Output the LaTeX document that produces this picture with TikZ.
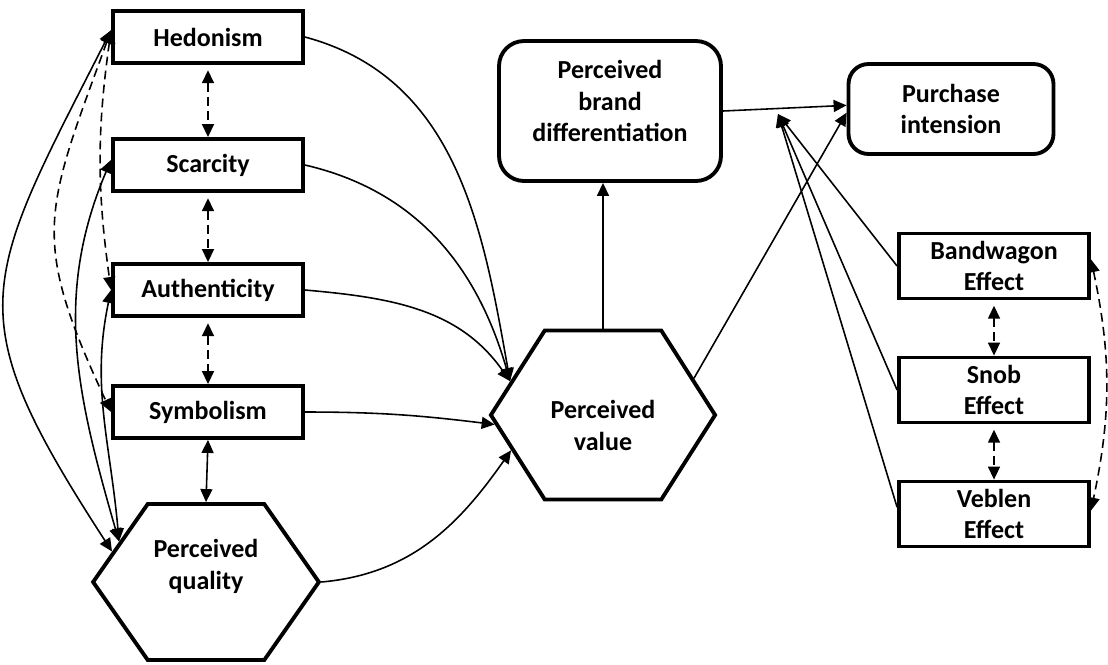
\documentclass[tikz,border=0pt]{standalone}
\usepackage{fontspec}
\setmainfont{Carlito}
\usetikzlibrary{shapes,arrows.meta}
\tikzstyle{bx}=[rectangle,draw=black,line width=2.2pt,minimum width=3.8cm,minimum height=1.04cm,align=center,font=\bfseries\fontsize{14.8}{17.9}\selectfont]
\tikzstyle{eff}=[bx,minimum height=1.3cm]
\tikzstyle{rbx}=[bx,rounded corners=0.5cm]
\tikzstyle{hexa}=[signal,signal to=east and west,draw=black,line width=2.2pt,align=center,font=\bfseries\fontsize{14.8}{17.9}\selectfont]
\tikzstyle{ln}=[line width=0.9pt,>={Triangle[length=0.26cm,width=0.24cm]}]
\tikzstyle{dsh}=[ln,dash pattern=on 5pt off 3pt]

\begin{document}
\begin{tikzpicture}[x=0.02cm,y=-0.02cm]
\useasboundingbox (0,0) rectangle (1108,664);
\node[bx] (hed) at (208,37) {Hedonism};
\node[bx] (scar) at (208,165) {Scarcity};
\node[bx] (auth) at (208,290) {Authenticity};
\node[bx] (sym) at (208,412) {Symbolism};
\node[hexa,minimum width=4.4cm,minimum height=3.12cm,signal pointer angle=110,text depth=20pt] (pq) at (206,582) {Perceived\\quality};
\node[hexa,minimum width=4.34cm,minimum height=3.38cm,signal pointer angle=115,text height=40pt] (pv) at (603,415) {Perceived\\value};
\node[rbx,minimum width=4.44cm,minimum height=2.8cm,text depth=11.5pt] (pbd) at (610,111) {Perceived\\brand\\differentiation};
\node[rbx,minimum width=4.1cm,minimum height=1.8cm,rounded corners=0.4cm] (pi) at (951,109) {Purchase\\intension};
\node[eff] (bw) at (994,266) {Bandwagon\\Effect};
\node[eff] (snob) at (994,390) {Snob\\Effect};
\node[eff] (veb) at (994,514) {Veblen\\Effect};
\coordinate (mod) at (778,114);

\draw[dsh,<->,shorten <=3pt] (hed.south) -- (scar.north);
\draw[dsh,<->,shorten <=3pt] (scar.south) -- (auth.north);
\draw[dsh,<->,shorten <=3pt] (auth.south) -- (sym.north);
\draw[ln,<->] (sym.south) -- (pq.north);
\draw[ln,<->] (hed.176) to[out=243,in=123,looseness=1.4] (pq.162);
\draw[dsh,<->] (hed.176) to[out=250,in=115,looseness=1.3] (sym.west);
\draw[dsh,<->] (hed.176) to[bend right=8] (auth.west);
\draw[ln,<->] (scar.177) to[out=247,in=106] (pq.155);
\draw[ln,<->] (auth.west) to[out=258,in=95] (pq.155);

\draw[ln,->] (hed.east) to[out=-15,in=100] (pv.160);
\draw[ln,->] (scar.east) to[out=-13,in=106] (pv.160);
\draw[ln,->] (auth.east) to[out=-5,in=125] (pv.160);
\draw[ln,->] (sym.east) to[out=0,in=173] (pv.185);
\draw[ln,->] (pq.east) to[out=5,in=235] (pv.201);
\draw[ln,->] (pv.north) -- (pv.north |- pbd.south);
\draw[ln,->] (pv.22) -- (pi.182);
\draw[ln,->] (pbd.east) -- (pi.178);

\draw[ln,->] (bw.west) -- (mod);
\draw[ln,->] (snob.west) -- (mod);
\draw[ln,->] (veb.176) -- (mod);
\draw[dsh,<->,shorten <=3pt] (bw.south) -- (snob.north);
\draw[dsh,<->,shorten <=3pt] (snob.south) -- (veb.north);
\draw[dsh,<->] (bw.4) to[bend left=12] (veb.2);
\end{tikzpicture}
\end{document}
